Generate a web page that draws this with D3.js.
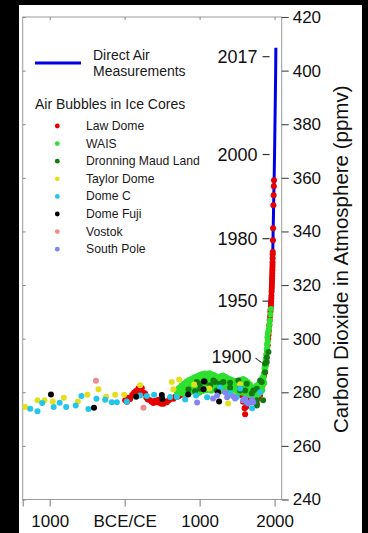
<!DOCTYPE html>
<html>
<head>
<meta charset="utf-8">
<script src="https://cdn.jsdelivr.net/npm/d3@7"></script>
<style>
  html, body { margin: 0; padding: 0; background: #000; }
  svg { display: block; }
  text { font-family: "Liberation Sans", Arial, Helvetica, sans-serif; }
</style>
</head>
<body>
<svg id="chart" width="368" height="533"></svg>
<script>
// ---- CO2 records: [year (negative = BCE), ppmv] ----
const directAir = [[1958,315.3],[1960,316.9],[1965,320.0],[1970,325.7],[1975,331.1],[1980,338.8],
  [1985,346.1],[1990,354.4],[1995,360.8],[2000,369.6],[2005,379.8],[2010,389.9],[2015,401.0],[2017,408.5]];

const lawDome = [[7,277.0],[30,276.5],[50,278.0],[73,277.5],[100,279.0],[125,279.8],[150,280.5],[163,280.1],
  [185,281.5],[207,280.7],[229,281.6],[250,279.8],[273,279.5],[290,278.0],[310,277.3],[340,277.0],[360,276.5],
  [385,276.0],[405,276.8],[429,276.3],[450,277.2],[470,276.0],[490,275.7],[517,275.7],[540,276.5],[563,276.3],
  [590,277.0],[610,277.6],[630,277.8],[651,277.6],[670,278.2],[696,278.2],[720,278.5],[750,279.0],
  [800,279.5],[850,280.0],[900,280.5],[950,281.0],[1000,280.0],[1050,281.5],[1100,282.0],[1150,281.0],
  [1200,281.5],[1250,282.0],[1300,281.5],[1350,280.5],[1400,280.0],[1450,279.5],[1500,280.0],[1550,279.0],
  [1580,276.5],[1600,274.0],[1607,271.8],[1620,274.5],[1640,276.0],[1660,277.0],[1690,276.5],[1720,276.8],
  [1750,277.0],[1763,275.7],[1780,278.0],[1800,280.0],[1807,279.0],[1820,281.0],[1840,282.6],[1850,284.0],
  [1860,286.3],[1870,287.5],[1880,290.0],[1890,292.5],[1900,295.5],[1908,297.5],[1915,300.0],[1920,301.5],
  [1925,303.0],[1930,305.0],[1935,307.0],[1940,308.5],[1944,310.0],[1948,311.0],[1950,312.0],[1952,313.0],
  [1954,314.0],[1956,315.0],[1958,316.0],[1960,317.5],[1962,318.5],[1963,319.5],[1965,320.5],[1966,321.5],
  [1967,322.5],[1968,323.5],[1969,324.5],[1970,325.5],[1971,326.5],[1972,327.5],[1973,328.5],[1974,330.0],
  [1975,331.5],[1976,332.3],[1978,336.7],[1980,341.2],[1984,349.8],[1987,353.5],[1990,356.9],[1992,359.1]];

const wais = [[700,280.0],[700,278.8],[715,279.5],[720,281.5],[740,280.2],[745,282.0],[760,282.5],[770,281.2],
  [775,279.5],[790,283.2],[800,282.5],[810,281.0],[825,284.0],[830,279.8],[840,280.5],[850,283.0],[860,284.6],
  [875,282.2],[880,280.0],[890,285.0],[900,283.5],[905,280.8],[920,285.4],[930,281.5],[935,283.0],[950,285.8],
  [960,284.0],[965,281.2],[980,286.2],[990,279.8],[995,283.6],[1000,284.8],[1010,286.5],[1020,283.5],
  [1025,281.8],[1040,286.8],[1045,280.5],[1055,284.0],[1065,285.0],[1070,287.0],[1080,283.6],[1085,282.5],
  [1095,280.8],[1100,286.9],[1110,285.5],[1115,284.8],[1125,283.0],[1130,287.1],[1140,285.5],[1145,282.0],
  [1155,280.6],[1160,286.7],[1170,285.8],[1175,284.2],[1185,283.0],[1190,286.4],[1200,284.5],[1205,282.6],
  [1215,281.0],[1220,286.0],[1230,285.2],[1235,284.0],[1245,283.0],[1250,285.6],[1260,284.4],[1265,281.8],
  [1275,280.5],[1280,286.0],[1290,284.8],[1295,283.6],[1305,282.5],[1310,286.3],[1320,284.6],[1325,282.0],
  [1335,281.0],[1340,285.8],[1350,284.4],[1355,283.2],[1365,282.0],[1370,285.3],[1380,283.8],[1385,281.5],
  [1395,280.4],[1400,285.0],[1410,283.8],[1415,283.0],[1425,281.5],[1430,284.6],[1440,283.2],[1445,281.0],
  [1455,280.2],[1460,284.3],[1470,283.5],[1475,282.4],[1485,281.2],[1490,284.2],[1500,282.8],[1505,280.6],
  [1515,279.8],[1520,284.0],[1530,283.2],[1535,282.0],[1545,281.5],[1550,284.6],[1560,283.6],[1565,280.8],
  [1575,279.8],[1580,285.0],[1590,283.8],[1595,282.5],[1605,281.5],[1610,284.5],[1620,282.8],[1625,280.0],
  [1635,279.0],[1640,283.8],[1650,282.5],[1655,281.5],[1665,280.2],[1670,283.0],[1680,281.8],[1685,279.5],
  [1695,278.8],[1700,282.0],[1710,281.0],[1715,280.0],[1725,279.0],[1730,281.5],[1740,280.8],[1745,279.0],
  [1755,278.5],[1760,282.5],[1770,281.5],[1775,280.0],[1785,279.2],[1790,283.0],[1800,282.5],[1805,281.0],
  [1815,280.0],[1820,284.0],[1825,283.0],[1830,282.0],[1835,280.8],[1840,285.5],[1845,283.0],[1850,284.0],
  [1855,285.5],[1858,287.0],[1862,283.5],[1865,289.0],[1870,287.8],[1872,290.5],[1877,289.5],[1880,292.0],
  [1885,290.5],[1888,294.0],[1892,292.8],[1895,296.0],[1900,298.0],[1903,296.5],[1905,300.5],[1910,299.0],
  [1912,302.0],[1918,303.0],[1925,303.8],[1932,305.5],[1938,306.8],[1944,309.0],[1950,311.1]];

const dronningMaud = [[851,281.0],[940,280.4],[963,283.8],[1007,283.2],[1007,281.3],[1073,283.8],[1140,282.6],
  [1184,284.4],[1207,283.8],[1229,280.7],[1273,283.2],[1317,283.8],[1407,283.6],[1407,281.7],[1517,284.4],
  [1540,281.9],[1540,280.7],[1607,280.7],[1629,283.2],[1696,279.5],[1717,280.7],[1763,281.3],[1763,277.0],
  [1763,275.1],[1807,284.4],[1829,283.8],[1847,277.0],[1873,287.5],[1873,290.7],[1896,291.3],[1896,293.1],[1918,295.0]];

const taylorDome = [[-1327,274.5],[-1163,277.0],[-1069,277.0],[-960,276.6],[-811,278.0],[-624,276.6],
  [-496,279.1],[-349,281.1],[-247,278.3],[-127,279.1],[-7,279.1],[207,282.6],[629,283.8],[651,281.1],
  [727,284.8],[927,282.9],[1127,281.4],[1380,275.8],[1447,278.8],[1540,283.0]];

const domeC = [[-1260,273.9],[-1163,272.9],[-1100,276.0],[-947,274.5],[-867,276.1],[-780,274.5],[-653,275.1],
  [-577,278.6],[-483,273.8],[-376,277.6],[-260,277.2],[-171,276.3],[-104,276.3],[29,276.6],[207,278.8],
  [296,278.6],[393,279.1],[607,278.2],[696,278.2],[807,277.3],[953,278.8],[1100,278.1],[1273,281.8],
  [1407,279.6],[1496,278.2],[1540,281.4],[1633,276.2],[1700,274.0],[1807,280.0]];

const domeFuji = [[-983,279.2],[-409,274.2],[153,278.3],[496,279.0],[504,277.5],[847,279.2],[1060,284.1],
  [1053,281.1],[1247,280.0],[1260,276.6]];

const vostok = [[-383,284.3],[251,274.2]];

const southPole = [[967,276.2],[1180,277.7],[1233,278.8],[1340,280.0],[1367,278.1],[1447,278.5],[1473,277.7],
  [1580,277.0],[1607,277.7],[1647,275.8],[1700,277.3],[1717,276.3]];

// ---- legend / series setup ----
const seriesNames = ["Law Dome","WAIS","Dronning Maud Land","Taylor Dome","Dome C","Dome Fuji","Vostok","South Pole"];
const seriesData = [lawDome, wais, dronningMaud, taylorDome, domeC, domeFuji, vostok, southPole];
const seriesColors = ["#e60000","#2de12d","#137a13","#e3e01b","#22c6e8","#000000","#f28b8b","#8585f2"];

// ---- axes ----
const xTickValues = [-1360, -1000, 0, 1000, 2000];
const xTickLabels = ["", "1000", "BCE/CE", "1000", "2000"];
const yTickValues = [240, 260, 280, 300, 320, 340, 360, 380, 400, 420];

// ---- year call-outs along the rising curve ----
const calloutYears = [2017, 2000, 1980, 1950, 1900];
const calloutPpm   = [405.2, 368.7, 337.3, 314.0, 293.1];

const svg = d3.select("#chart");

// white panel behind the figure
svg.append("rect").attr("x", 19).attr("y", 5).attr("width", 343).attr("height", 528).attr("fill", "#fff");

const x = d3.scaleLinear().domain([-1360, 2095]).range([22.7, 281.7]);
const y = d3.scaleLinear().domain([240, 420]).range([499.5, 17]);

// plot frame
svg.append("rect")
  .attr("x", x.range()[0]).attr("y", y.range()[1])
  .attr("width", x.range()[1] - x.range()[0]).attr("height", y.range()[0] - y.range()[1])
  .attr("fill", "none").attr("stroke", "#9c9c9c").attr("stroke-width", 1);

// bottom axis (outward ticks)
const xAxis = svg.append("g").attr("transform", `translate(0,${y.range()[0]})`)
  .call(d3.axisBottom(x).tickValues(xTickValues)
    .tickFormat((d, i) => xTickLabels[i]).tickSize(7).tickSizeOuter(0).tickPadding(8.4));
xAxis.select(".domain").remove();
xAxis.selectAll(".tick line").attr("stroke", "#777");
xAxis.selectAll(".tick text").attr("font-size", 17).attr("fill", "#111")
  .style("font-family", '"Liberation Sans", Arial, sans-serif');

// top inner ticks
const topAxis = svg.append("g").attr("transform", `translate(0,${y.range()[1]})`)
  .call(d3.axisTop(x).tickValues(xTickValues.slice(1)).tickSize(-3).tickFormat(""));
topAxis.select(".domain").remove();
topAxis.selectAll(".tick line").attr("stroke", "#888");

// left inner ticks
const leftAxis = svg.append("g").attr("transform", `translate(${x.range()[0]},0)`)
  .call(d3.axisLeft(y).tickValues(yTickValues).tickSize(-3).tickFormat(""));
leftAxis.select(".domain").remove();
leftAxis.selectAll(".tick line").attr("stroke", "#888");

// right axis with ppmv labels
const yAxis = svg.append("g").attr("transform", `translate(${x.range()[1]},0)`)
  .call(d3.axisRight(y).tickValues(yTickValues).tickSize(7).tickPadding(4));
yAxis.select(".domain").remove();
yAxis.selectAll(".tick line").attr("stroke", "#444").attr("stroke-width", 1.1);
yAxis.selectAll(".tick text").attr("font-size", 17).attr("fill", "#111")
  .style("font-family", '"Liberation Sans", Arial, sans-serif');

// right axis title
svg.append("text")
  .attr("transform", `translate(340,${(y.range()[0] + y.range()[1]) / 2 + 1}) rotate(-90)`)
  .attr("text-anchor", "middle").attr("dominant-baseline", "central")
  .attr("font-size", 20.5).attr("fill", "#111")
  .text("Carbon Dioxide in Atmosphere (ppmv)");

// direct air measurements line
svg.append("path")
  .datum(directAir)
  .attr("fill", "none").attr("stroke", "#0000e6").attr("stroke-width", 3)
  .attr("d", d3.line().x(d => x(d[0])).y(d => y(d[1])));

// ice core points
seriesData.forEach((data, i) => {
  svg.append("g").selectAll("circle").data(data).join("circle")
    .attr("cx", d => x(d[0])).attr("cy", d => y(d[1])).attr("r", 3)
    .attr("fill", seriesColors[i]);
});

// year call-outs
const calloutEnd = x(2000) - 12;
calloutYears.forEach((yr, i) => {
  const cy = y(calloutPpm[i]);
  const diag = yr === 1900;
  svg.append("text")
    .attr("x", diag ? calloutEnd - 11 : calloutEnd - 5).attr("y", cy)
    .attr("text-anchor", "end").attr("dominant-baseline", "central")
    .attr("font-size", 18).attr("fill", "#111").text(yr);
  if (diag) {
    svg.append("line").attr("x1", calloutEnd - 7).attr("y1", cy + 1)
      .attr("x2", calloutEnd - 1).attr("y2", cy + 5.5)
      .attr("stroke", "#333").attr("stroke-width", 1.1);
  } else {
    svg.append("line").attr("x1", calloutEnd).attr("y1", cy)
      .attr("x2", calloutEnd + 7).attr("y2", cy)
      .attr("stroke", "#333").attr("stroke-width", 1.2);
  }
});

// legend
const legend = svg.append("g");
legend.append("line").attr("x1", 35).attr("x2", 81).attr("y1", 63).attr("y2", 63)
  .attr("stroke", "#0000e6").attr("stroke-width", 3);
legend.append("text").attr("x", 93).attr("y", 60).attr("font-size", 14).attr("fill", "#1a1a1a").text("Direct Air");
legend.append("text").attr("x", 93).attr("y", 75.5).attr("font-size", 14).attr("fill", "#1a1a1a").text("Measurements");
legend.append("text").attr("x", 35).attr("y", 108.5).attr("font-size", 14).attr("fill", "#1a1a1a").text("Air Bubbles in Ice Cores");

seriesNames.forEach((name, i) => {
  const cy = 126 + i * 17.6;
  legend.append("circle").attr("cx", 57.3).attr("cy", cy).attr("r", 2.4).attr("fill", seriesColors[i]);
  legend.append("text").attr("x", 86).attr("y", cy).attr("dominant-baseline", "central")
    .attr("font-size", 12.2).attr("fill", "#1a1a1a").text(name);
});
</script>
</body>
</html>
